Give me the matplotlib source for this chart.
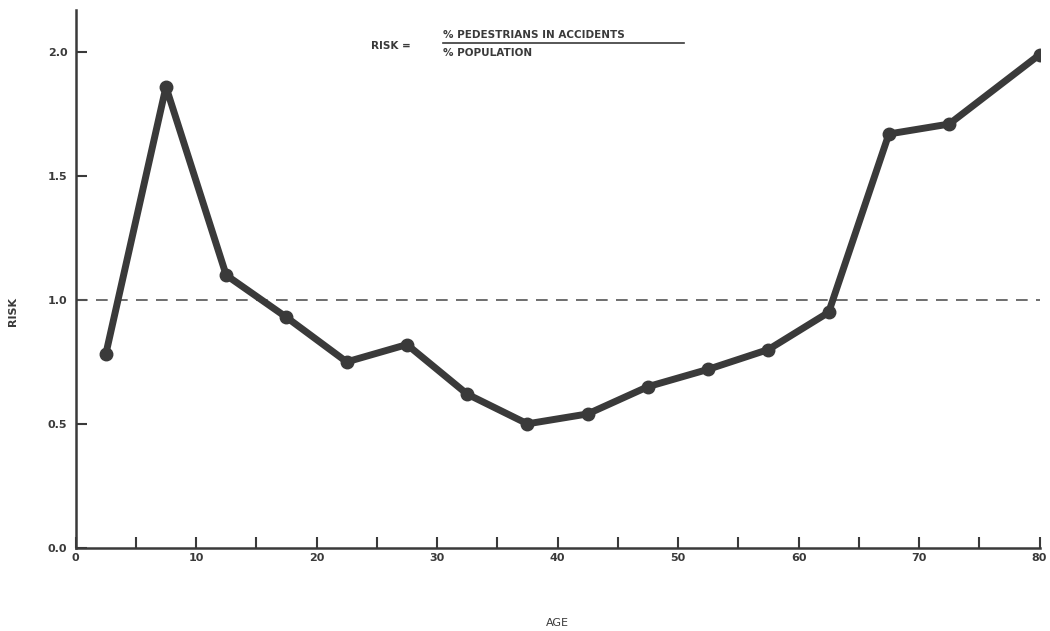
import matplotlib.pyplot as plt

age = [2.5, 7.5, 12.5, 17.5, 22.5, 27.5, 32.5, 37.5, 42.5, 47.5, 52.5, 57.5, 62.5, 67.5, 72.5, 80]
risk = [0.78, 1.86, 1.10, 0.93, 0.75, 0.82, 0.62, 0.50, 0.54, 0.65, 0.72, 0.80, 0.95, 1.67, 1.71, 1.99]
xticks = [0, 10, 20, 30, 40, 50, 60, 70, 80]
yticks = [0.0, 0.5, 1.0, 1.5, 2.0]

plt.rcParams.update({'font.size': 8, 'font.family': 'DejaVu Sans', 'font.weight': 'bold'})
ink = "#3a3a3a"

fig = plt.figure(figsize=(10.5, 6.31), dpi=100)
ax = fig.add_axes([0.072, 0.132, 0.918, 0.852])

ax.axhline(1.0, xmin=0, xmax=1, color="#555555", lw=1.2, ls=(0, (7, 5)))
ax.plot(age, risk, color=ink, lw=5, marker="o", markersize=9, solid_joinstyle="round", zorder=3)

ax.set_xlim(0, 80)
ax.set_ylim(0, 2.17)
ax.set_xticks(xticks)
ax.set_xticks([5, 15, 25, 35, 45, 55, 65, 75], minor=True)
ax.set_yticks(yticks)
ax.set_yticklabels(["0.0", "0.5", "1.0", "1.5", "2.0"])
ax.tick_params(axis="x", which="both", direction="in", length=8, width=1.5, color=ink, labelcolor=ink, pad=4)
ax.tick_params(axis="y", direction="in", length=8, width=1.5, color=ink, labelcolor=ink, pad=6)
for s in ["top", "right"]:
    ax.spines[s].set_visible(False)
for s in ["left", "bottom"]:
    ax.spines[s].set_color(ink)
    ax.spines[s].set_linewidth(1.8)

ax.set_xlabel("AGE", color=ink, fontweight="normal", fontsize=8)
ax.xaxis.set_label_coords(0.5, -0.13)
ax.set_ylabel("RISK", color=ink, fontsize=8, fontweight="bold")
ax.yaxis.set_label_coords(-0.06, 0.44)

# formula annotation
fig.text(0.353, 0.927, "RISK =", color=ink, fontsize=7.5, va="center")
fig.text(0.422, 0.945, "% PEDESTRIANS IN ACCIDENTS", color=ink, fontsize=7.5, va="center")
fig.add_artist(plt.Line2D([0.422, 0.651], [0.932, 0.932], color=ink, lw=1.2))
fig.text(0.422, 0.916, "% POPULATION", color=ink, fontsize=7.5, va="center")

fig.savefig("out.png", dpi=100)
